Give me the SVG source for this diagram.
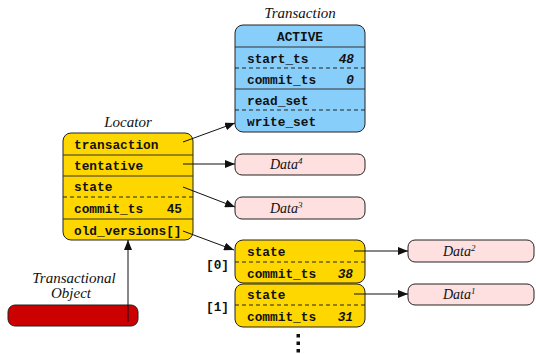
<svg xmlns="http://www.w3.org/2000/svg" width="536" height="354" viewBox="0 0 536 354">
<style>
.box{stroke:#222;stroke-width:1}
.y{fill:#FFD700}
.b{fill:#87CEFA}
.p{fill:#FFE0E0}
.r{fill:#CC0000}
.sep{stroke:#333;stroke-width:1}
.dash{stroke:#222;stroke-width:1;stroke-dasharray:4 3}
.m{font-family:"Liberation Mono","DejaVu Sans Mono",monospace;font-weight:bold;font-size:12.8px;fill:#111}
.mi{font-family:"Liberation Mono","DejaVu Sans Mono",monospace;font-weight:bold;font-style:italic;font-size:12.8px;fill:#111}
.t{font-family:"Liberation Serif","Times New Roman",serif;font-style:italic;font-size:15px;fill:#111}
.d{font-family:"Liberation Serif","Times New Roman",serif;font-style:italic;font-size:14px;fill:#111}
.c{stroke:#111;stroke-width:1;fill:none}
</style>
<defs>
<marker id="ah" viewBox="0 0 10 8" refX="10" refY="4" markerWidth="10" markerHeight="8" markerUnits="userSpaceOnUse" orient="auto">
<path d="M0,0 L10,4 L0,8 Z" fill="#111"/>
</marker>
</defs>

<g id="transaction">
<text class="t" x="300" y="18" text-anchor="middle">Transaction</text>
<rect class="box b" x="235" y="25" width="130" height="107" rx="8"/>
<line class="sep" x1="235" y1="47" x2="365" y2="47"/>
<line class="dash" x1="235" y1="68" x2="365" y2="68"/>
<line class="sep" x1="235" y1="89" x2="365" y2="89"/>
<line class="dash" x1="235" y1="110" x2="365" y2="110"/>
<text class="m" x="300" y="41" text-anchor="middle">ACTIVE</text>
<text class="m" x="247" y="63">start_ts</text>
<text class="mi" x="354" y="63" text-anchor="end">48</text>
<text class="m" x="247" y="84">commit_ts</text>
<text class="mi" x="354" y="84" text-anchor="end">0</text>
<text class="m" x="247" y="105">read_set</text>
<text class="m" x="247" y="126">write_set</text>
</g>

<g id="locator">
<text class="t" x="128" y="127" text-anchor="middle">Locator</text>
<rect class="box y" x="63" y="133" width="130" height="107" rx="8"/>
<line class="sep" x1="63" y1="155" x2="193" y2="155"/>
<line class="sep" x1="63" y1="176" x2="193" y2="176"/>
<line class="dash" x1="63" y1="197" x2="193" y2="197"/>
<line class="sep" x1="63" y1="219" x2="193" y2="219"/>
<text class="m" x="74" y="149">transaction</text>
<text class="m" x="74" y="170">tentative</text>
<text class="m" x="74" y="191">state</text>
<text class="m" x="74" y="213">commit_ts</text>
<text class="m" x="182" y="213" text-anchor="end">45</text>
<text class="m" x="74" y="235">old_versions[]</text>
</g>

<g id="data4">
<rect class="box p" x="235" y="154" width="130" height="21" rx="7"/>
<text class="d" x="270" y="169">Data<tspan font-size="9" dy="-5">4</tspan></text>
</g>

<g id="data3">
<rect class="box p" x="235" y="197" width="130" height="22" rx="7"/>
<text class="d" x="270" y="213">Data<tspan font-size="9" dy="-5">3</tspan></text>
</g>

<g id="version0">
<rect class="box y" x="235" y="240" width="130" height="43" rx="8"/>
<line class="dash" x1="235" y1="262" x2="365" y2="262"/>
<text class="m" x="247" y="256">state</text>
<text class="m" x="247" y="278">commit_ts</text>
<text class="mi" x="353" y="278" text-anchor="end">38</text>
<text class="m" x="229" y="269" text-anchor="end">[0]</text>
</g>

<g id="version1">
<rect class="box y" x="235" y="284" width="130" height="43" rx="8"/>
<line class="dash" x1="235" y1="305" x2="365" y2="305"/>
<text class="m" x="247" y="299">state</text>
<text class="m" x="247" y="321">commit_ts</text>
<text class="mi" x="353" y="321" text-anchor="end">31</text>
<text class="m" x="229" y="311" text-anchor="end">[1]</text>
</g>

<g id="ellipsis">
<rect x="296.5" y="334" width="3.5" height="3.5" fill="#111"/>
<rect x="296.5" y="341.5" width="3.5" height="3.5" fill="#111"/>
<rect x="296.5" y="349" width="3.5" height="3.5" fill="#111"/>
</g>

<g id="data2">
<rect class="box p" x="408" y="240" width="126" height="22" rx="7"/>
<text class="d" x="443" y="256">Data<tspan font-size="9" dy="-5">2</tspan></text>
</g>

<g id="data1">
<rect class="box p" x="408" y="284" width="126" height="21" rx="7"/>
<text class="d" x="443" y="299">Data<tspan font-size="9" dy="-5">1</tspan></text>
</g>

<g id="transactional-object">
<text class="t" x="74" y="283" text-anchor="middle">Transactional</text>
<text class="t" x="71" y="298" text-anchor="middle">Object</text>
<rect class="box r" x="8" y="305" width="130" height="21" rx="7"/>
</g>

<g id="connectors">
<line class="c" x1="183" y1="142" x2="235" y2="123" marker-end="url(#ah)"/>
<line class="c" x1="183" y1="164" x2="235" y2="164" marker-end="url(#ah)"/>
<line class="c" x1="183" y1="187" x2="235" y2="207" marker-end="url(#ah)"/>
<line class="c" x1="183" y1="231" x2="234" y2="250" marker-end="url(#ah)"/>
<line class="c" x1="354" y1="251" x2="408" y2="251" marker-end="url(#ah)"/>
<line class="c" x1="354" y1="294" x2="408" y2="294" marker-end="url(#ah)"/>
<line class="c" x1="128" y1="322" x2="128" y2="240" marker-end="url(#ah)"/>
</g>
</svg>
